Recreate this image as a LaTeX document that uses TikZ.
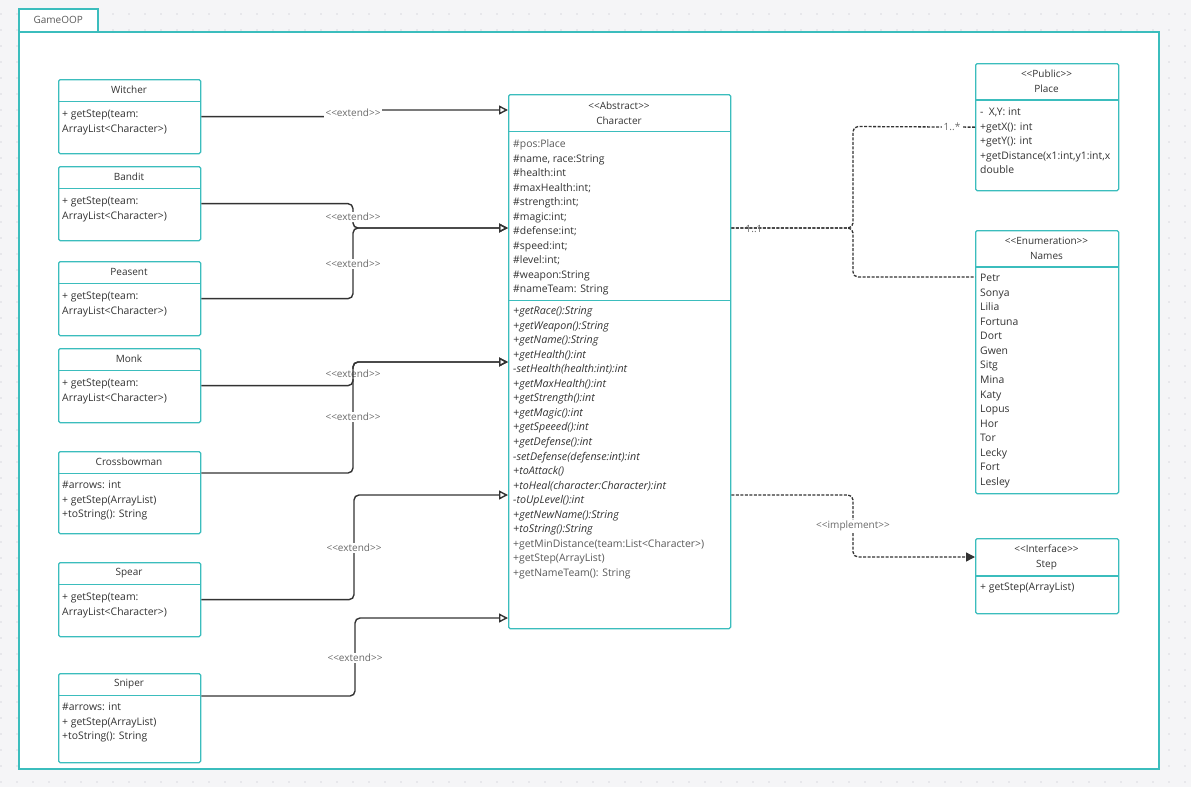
\documentclass[tikz,border=0pt]{standalone}
\usepackage{fontspec}
\setmainfont{Open Sans}[Ligatures=TeXOff]
\usetikzlibrary{arrows.meta}
\definecolor{frameteal}{HTML}{3BBDBD}
\definecolor{ink}{HTML}{333333}
\definecolor{softink}{HTML}{5A5A5A}
\definecolor{lblgray}{HTML}{6A6A6A}
\definecolor{bggray}{HTML}{F5F5F7}
\definecolor{dotgray}{HTML}{DADADF}
\tikzset{
  clsbox/.style={draw=frameteal, line width=1.3pt, fill=white, rounded corners=1.5pt,
    anchor=north west, inner sep=0pt, minimum width=142pt},
  sepline/.style={draw=frameteal, line width=1.3pt},
  title/.style={text=ink, font=\fontsize{10}{15}\selectfont, align=center, inner sep=0pt},
  member/.style={text=ink, font=\fontsize{10.4}{14.5}\selectfont, anchor=base west, inner sep=0pt},
  ext/.style={draw=ink, line width=1.4pt, rounded corners=5pt,
    -{Triangle[open, length=9pt, width=9pt]}},
  dep/.style={draw=ink, line width=1.3pt, dash pattern=on 3pt off 1.5pt, rounded corners=5pt},
  lbl/.style={text=lblgray, font=\fontsize{10}{12}\selectfont, fill=white, inner sep=1.5pt},
}
\begin{document}
\begin{tikzpicture}[x=1pt,y=-1pt]
\useasboundingbox (0,0) rectangle (1191,787);
\fill[bggray] (0,0) rectangle (1191,787);
\foreach \i in {0,...,74}
  \foreach \j in {0,...,48}
    \fill[dotgray] (1+16*\i,14+16*\j) circle (0.9pt);

% package frame
\node[draw=frameteal, line width=1.5pt, fill=white, anchor=north west, inner sep=0pt,
  minimum width=79pt, minimum height=23pt, text=softink, font=\fontsize{10}{12}\selectfont]
  (tab) at (18,8) {GameOOP};
\node[draw=frameteal, line width=1.5pt, fill=white, anchor=north west, inner sep=0pt,
  minimum width=1140pt, minimum height=737pt] (frame) at (18,31) {};

% subclasses with team parameter
\foreach \n/\lab/\y in {witcher/Witcher/79, bandit/Bandit/166, peasent/Peasent/261,
    monk/Monk/348, spear/Spear/562} {
  \node[clsbox, minimum height=74pt] (\n) at (58,\y) {};
  \draw[sepline] (58,\y+22.5) -- (200,\y+22.5);
  \node[title] at (129,\y+11) {\lab};
  \node[member] at (62,\y+38.5) {+ getStep(team:};
  \node[member] at (62,\y+53) {ArrayList<Character>)};
}
% subclasses with arrows
\foreach \n/\lab/\y/\h in {crossbowman/Crossbowman/451/82, sniper/Sniper/673/89} {
  \node[clsbox, minimum height=\h pt] (\n) at (58,\y) {};
  \draw[sepline] (58,\y+22.5) -- (200,\y+22.5);
  \node[title] at (129,\y+11) {\lab};
  \foreach \t [count=\k from 0] in {{\#arrows: int}, {+ getStep(ArrayList)}, {+toString(): String}}
    \node[member] at (62,\y+37.5+14.5*\k) {\t};
}

% abstract class
\node[clsbox, minimum width=222pt, minimum height=534pt] (character) at (508,94) {};
\draw[sepline] (character.west |- 0,131.5) -- (character.east |- 0,131.5);
\draw[sepline] (character.west |- 0,300.5) -- (character.east |- 0,300.5);
\node[title] at (619,113) {<<Abstract>>\\Character};
\node[member, text=softink] at (513,147.5) {\#pos:Place};
\foreach \t [count=\k from 1] in {{\#name, race:String}, {\#health:int}, {\#maxHealth:int;},
    {\#strength:int;}, {\#magic:int;}, {\#defense:int;}, {\#speed:int;}, {\#level:int;},
    {\#weapon:String}, {\#nameTeam: String}}
  \node[member] at (513,147.5+14.5*\k) {\t};
\foreach \t [count=\k from 0] in {{+getRace():String}, {+getWeapon():String}, {+getName():String},
    {+getHealth():int}, {-setHealth(health:int):int}, {+getMaxHealth():int}, {+getStrength():int},
    {+getMagic():int}, {+getSpeeed():int}, {+getDefense():int}, {-setDefense(defense:int):int},
    {+toAttack()}, {+toHeal(character:Character):int}, {-toUpLevel():int}, {+getNewName():String},
    {+toString():String}}
  \node[member, font=\fontsize{10.7}{14.5}\selectfont\itshape] at (513,314.5+14.55*\k) {\t};
\foreach \t [count=\k from 16] in {{+getMinDistance(team:List<Character>)}, {+getStep(ArrayList)},
    {+getNameTeam(): String}}
  \node[member, text=softink] at (513,314.5+14.55*\k) {\t};

% right-hand classes
\node[clsbox, minimum width=143pt, minimum height=127pt] (place) at (975,63) {};
\draw[sepline] (place.west |- 0,100) -- (place.east |- 0,100);
\node[title] at (1046.5,81.5) {<<Public>>\\Place};
\foreach \t [count=\k from 0] in {{-\ \ X,Y: int}, {+getX(): int}, {+getY(): int},
    {+getDistance(x1:int,y1:int,x}, {double}}
  \node[member] at (980,115.5+14.5*\k) {\t};

\node[clsbox, minimum width=143pt, minimum height=263pt] (names) at (975,230) {};
\draw[sepline] (names.west |- 0,267) -- (names.east |- 0,267);
\node[title] at (1046.5,248.5) {<<Enumeration>>\\Names};
\foreach \t [count=\k from 0] in {Petr, Sonya, Lilia, Fortuna, Dort, Gwen, Sitg, Mina, Katy,
    Lopus, Hor, Tor, Lecky, Fort, Lesley}
  \node[member] at (980,281.5+14.57*\k) {\t};

\node[clsbox, minimum width=143pt, minimum height=75pt] (step) at (975,538) {};
\draw[sepline] (step.west |- 0,576) -- (step.east |- 0,576);
\node[title] at (1046.5,557) {<<Interface>>\\Step};
\node[member] at (980,590.5) {+ getStep(ArrayList)};

% generalisations
\coordinate (kW) at (353,113);
\coordinate (kB) at (353,217);
\coordinate (kP) at (353,264);
\coordinate (kM) at (353,374);
\coordinate (kC) at (353,417);
\coordinate (kS) at (354,548);
\coordinate (kN) at (355,658);
\draw[ext] (witcher.east) -| (kW) |- (character.west |- 0,110);
\node[lbl] at (kW) {<<extend>>};
\draw[ext] (bandit.east) -| (kB) |- (character.west |- 0,228);
\node[lbl] at (kB) {<<extend>>};
\draw[ext] (peasent.east) -| (kP) |- (character.west |- 0,228);
\node[lbl] at (kP) {<<extend>>};
\draw[ext] (monk.east) -| (kM) |- (character.west |- 0,362);
\node[lbl] at (kM) {<<extend>>};
\draw[ext] (crossbowman.east |- 0,473) -| (kC) |- (character.west |- 0,362);
\node[lbl] at (kC) {<<extend>>};
\draw[ext] (spear.east) -| (kS) |- (character.west |- 0,495);
\node[lbl] at (kS) {<<extend>>};
\draw[ext] (sniper.east |- 0,696) -| (kN) |- (character.west |- 0,618);
\node[lbl] at (kN) {<<extend>>};

% associations and interface
\coordinate (brT) at (853,126.5);
\coordinate (brB) at (853,277);
\draw[dep] (character.east |- 0,228) -| (brT) -- (place.west);
\draw[dep] (character.east |- 0,228) -| (brB) -- (names.west |- 0,277);
\node[text=lblgray, font=\fontsize{10}{12}\selectfont, inner sep=0pt] at (754,229) {1..1};
\node[lbl] at (952,127) {1..*};
\coordinate (kI) at (853,526);
\draw[dep, -{Triangle[length=9pt, width=9pt]}] (character.east |- 0,495) -| (kI) |- (step.west |- 0,557);
\node[lbl] at (kI) {<<implement>>};
\end{tikzpicture}
\end{document}
